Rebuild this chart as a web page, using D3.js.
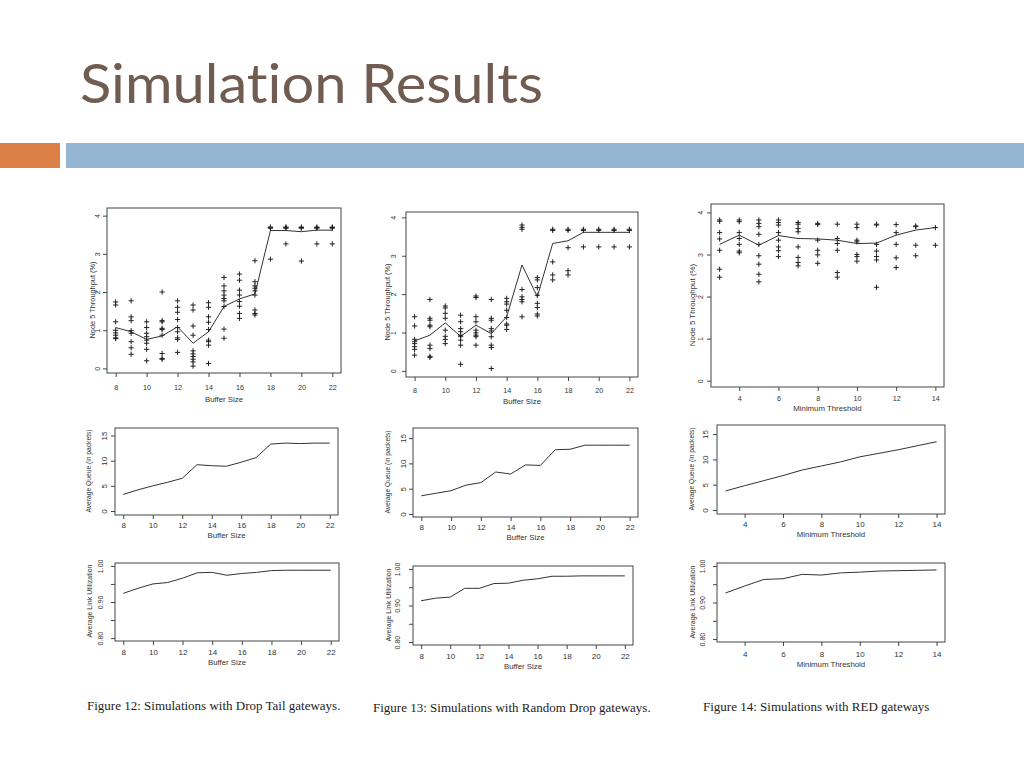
<!DOCTYPE html>
<html lang="en">
<head>
<meta charset="UTF-8">
<title>Simulation Results</title>
<script src="https://cdnjs.cloudflare.com/ajax/libs/d3/7.8.5/d3.min.js"></script>
<style>
  body { margin: 0; background: #fff; }
  svg { display: block; }
  .axis text { font-family: "Liberation Sans", Arial, sans-serif; fill: #333; }
  .axis line { stroke: #444; }
  .axis path { display: none; }
  .lab { font-family: "Liberation Sans", Arial, sans-serif; fill: #333; }
  .caption { font-family: "Liberation Serif", "Times New Roman", serif; font-size: 13px; fill: #222; }
</style>
</head>
<body>
<svg id="slide" width="1024" height="768"></svg>
<script>
// x values
const bufferSizes = [8, 9, 10, 11, 12, 13, 14, 15, 16, 17, 18, 19, 20, 21, 22];
const thresholds = [3, 4, 5, 6, 7, 8, 9, 10, 11, 12, 13, 14];

// Node 5 throughput (%), individual runs per x value
const dropTailRuns = [
  [1.74, 1.66, 1.22, 1.00, 0.93, 0.87, 0.80, 0.78],
  [1.77, 1.35, 1.25, 0.99, 0.92, 0.70, 0.54, 0.37],
  [1.22, 1.07, 0.92, 0.83, 0.74, 0.66, 0.50, 0.20],
  [2.00, 1.25, 1.22, 1.05, 1.02, 0.87, 0.39, 0.26, 0.24],
  [1.77, 1.60, 1.47, 1.28, 1.07, 0.96, 0.80, 0.76, 0.42],
  [1.66, 1.53, 1.11, 0.87, 0.46, 0.38, 0.31, 0.24, 0.17, 0.06],
  [1.72, 1.60, 1.35, 1.21, 1.02, 0.74, 0.70, 0.61, 0.13],
  [2.38, 2.16, 2.03, 1.92, 1.83, 1.77, 1.62, 1.03, 0.79],
  [2.47, 2.31, 2.05, 1.92, 1.75, 1.63, 1.44, 1.31],
  [2.82, 2.27, 2.16, 2.10, 2.03, 1.92, 1.53, 1.44, 1.40],
  [3.70, 3.69, 3.67, 2.86],
  [3.70, 3.69, 3.67, 3.26],
  [3.70, 3.69, 3.67, 2.81],
  [3.70, 3.69, 3.67, 3.26],
  [3.70, 3.69, 3.67, 3.26]
];
const dropTailMean = [1.07, 0.96, 0.76, 0.85, 1.09, 0.66, 0.96, 1.62, 1.82, 1.95, 3.61, 3.61, 3.58, 3.62, 3.62];

const randomDropRuns = [
  [1.41, 1.17, 0.82, 0.76, 0.71, 0.63, 0.56, 0.41],
  [1.86, 1.37, 1.32, 1.19, 1.15, 0.67, 0.58, 0.38, 0.35],
  [1.69, 1.64, 1.50, 1.37, 1.06, 0.90, 0.82, 0.71],
  [1.45, 1.28, 1.10, 1.02, 0.93, 0.89, 0.80, 0.67, 0.17],
  [1.95, 1.91, 1.41, 1.28, 1.06, 0.99, 0.93, 0.89, 0.67],
  [1.86, 1.37, 1.32, 1.10, 1.04, 0.89, 0.67, 0.61, 0.06],
  [1.89, 1.80, 1.74, 1.58, 1.39, 1.22, 1.19, 1.08],
  [3.80, 3.74, 3.69, 2.12, 1.93, 1.86, 1.80, 1.41],
  [2.43, 2.37, 2.17, 1.97, 1.76, 1.65, 1.48, 1.43],
  [3.69, 3.66, 2.84, 2.50, 2.37],
  [3.69, 3.66, 3.21, 2.61, 2.50],
  [3.69, 3.66, 3.23],
  [3.69, 3.66, 3.23],
  [3.69, 3.66, 3.23],
  [3.69, 3.66, 3.23]
];
const randomDropMean = [0.78, 0.93, 1.25, 0.90, 1.19, 0.97, 1.41, 2.76, 1.93, 3.32, 3.39, 3.61, 3.61, 3.61, 3.61];

const redRuns = [
  [3.82, 3.79, 3.52, 3.37, 3.10, 2.65, 2.46],
  [3.82, 3.78, 3.52, 3.38, 3.24, 3.08, 3.04],
  [3.82, 3.74, 3.66, 3.48, 3.24, 2.97, 2.77, 2.53, 2.35],
  [3.82, 3.76, 3.70, 3.52, 3.34, 3.18, 3.09, 2.95],
  [3.76, 3.72, 3.62, 3.54, 3.18, 2.93, 2.81, 2.73],
  [3.74, 3.71, 3.34, 3.10, 2.99, 2.79],
  [3.72, 3.38, 3.26, 3.10, 2.57, 2.46],
  [3.72, 3.64, 3.34, 3.30, 3.00, 2.95, 2.84],
  [3.72, 3.70, 3.24, 3.08, 2.95, 2.87, 2.22],
  [3.71, 3.52, 3.24, 2.92, 2.69],
  [3.68, 3.66, 3.22, 2.97],
  [3.64, 3.22]
];
const redMean = [3.24, 3.46, 3.22, 3.45, 3.38, 3.37, 3.34, 3.26, 3.27, 3.46, 3.58, 3.64];

// average queue (packets)
const dropTailQueue = [3.3, 4.2, 5.0, 5.7, 6.5, 9.2, 9.0, 8.9, 9.7, 10.6, 13.3, 13.5, 13.4, 13.5, 13.5];
const randomDropQueue = [3.6, 4.1, 4.6, 5.7, 6.2, 8.3, 7.9, 9.7, 9.6, 12.7, 12.8, 13.6, 13.6, 13.6, 13.6];
const redQueue = [3.75, 4.8, 5.8, 6.8, 7.9, 8.7, 9.5, 10.5, 11.2, 11.9, 12.7, 13.5];

// average link utilization
const dropTailUtil = [0.924, 0.938, 0.950, 0.954, 0.966, 0.981, 0.982, 0.974, 0.979, 0.982, 0.987, 0.988, 0.988, 0.988, 0.988];
const randomDropUtil = [0.913, 0.920, 0.923, 0.947, 0.947, 0.960, 0.961, 0.969, 0.973, 0.980, 0.980, 0.981, 0.981, 0.981, 0.981];
const redUtil = [0.926, 0.945, 0.963, 0.965, 0.977, 0.975, 0.981, 0.983, 0.986, 0.987, 0.988, 0.989];

// ticks
const bufferTicks = [8, 10, 12, 14, 16, 18, 20, 22];
const thresholdTicks = [4, 6, 8, 10, 12, 14];
const throughputTicks = [0, 1, 2, 3, 4];
const queueTicks = [0, 5, 10, 15];
const utilTicks = [0.80, 0.85, 0.90, 0.95, 1.00];
const utilLabelled = [0.80, 0.90, 1.00];

const captions = [
  "Figure 12: Simulations with Drop Tail gateways.",
  "Figure 13: Simulations with Random Drop gateways.",
  "Figure 14: Simulations with RED gateways"
];

const svg = d3.select("#slide");

// slide header
svg.append("text")
  .attr("x", 80).attr("y", 103)
  .attr("textLength", 463).attr("lengthAdjust", "spacingAndGlyphs")
  .style("font-family", "Lato, 'Open Sans', sans-serif")
  .style("font-variant-ligatures", "none")
  .style("font-feature-settings", "'liga' 0")
  .style("font-size", "55px")
  .style("fill", "#705C51")
  .text("Simulation Results");
svg.append("rect").attr("x", 0).attr("y", 143).attr("width", 60).attr("height", 25).attr("fill", "#DD8047");
svg.append("rect").attr("x", 66).attr("y", 143).attr("width", 958).attr("height", 25).attr("fill", "#94B6D2");

// per-kind settings
const kinds = {
  thr:   { yTicks: throughputTicks, yLabelled: throughputTicks, fmt: d3.format("d"), yLab: "Node 5 Throughput (%)",
           tickFont: 7.2, yTickFont: 7, labFont: 7.8 },
  queue: { yTicks: queueTicks, yLabelled: queueTicks, fmt: d3.format("d"), yLab: "Average Queue (in packets)",
           tickFont: 8, yTickFont: 8, labFont: 7.8 },
  util:  { yTicks: utilTicks, yLabelled: utilLabelled, fmt: d3.format(".2f"), yLab: "Average Link Utilization",
           tickFont: 8, yTickFont: 7, labFont: 7.8 }
};

const panels = [
  { kind: "thr", xs: bufferSizes, xTicks: bufferTicks, runs: dropTailRuns, line: dropTailMean, xLab: "Buffer Size",
    l: 107, r: 341, t: 208, b: 373, yDom: [-0.12, 4.2], xTickY: 387.5, xLabY: 399.5, yTickX: 97.5, yLabX: 92.5,
    yLabY: 300, yLabFont: 7.4 },
  { kind: "thr", xs: bufferSizes, xTicks: bufferTicks, runs: randomDropRuns, line: randomDropMean, xLab: "Buffer Size",
    l: 406, r: 638, t: 212, b: 377, yDom: [-0.16, 4.14], xTickY: 390.5, xLabY: 401.5, yTickX: 394, yLabX: 387.5,
    yLabY: 302, yLabFont: 7.4 },
  { kind: "thr", xs: thresholds, xTicks: thresholdTicks, runs: redRuns, line: redMean, xLab: "Minimum Threshold",
    l: 711, r: 944, t: 204, b: 387, yDom: [-0.15, 4.2], xTickY: 398.5, xLabY: 408.5, yTickX: 701, yLabX: 692,
    yLabY: 305, yLabFont: 7.9 },
  { kind: "queue", xs: bufferSizes, xTicks: bufferTicks, line: dropTailQueue, xLab: "Buffer Size",
    l: 115, r: 338, t: 428, b: 515, yDom: [-0.8, 16.5], xTickY: 525, xLabY: 535, yTickX: 104, yLabX: 89,
    yLabY: 471, yLabFont: 6.7 },
  { kind: "queue", xs: bufferSizes, xTicks: bufferTicks, line: randomDropQueue, xLab: "Buffer Size",
    l: 413, r: 638, t: 428, b: 517, yDom: [-0.6, 17], xTickY: 527, xLabY: 537, yTickX: 403, yLabX: 388,
    yLabY: 472, yLabFont: 6.7 },
  { kind: "queue", xs: thresholds, xTicks: thresholdTicks, line: redQueue, xLab: "Minimum Threshold",
    l: 717, r: 945, t: 425, b: 514, yDom: [-0.8, 16.8], xTickY: 524, xLabY: 534, yTickX: 705, yLabX: 692,
    yLabY: 469, yLabFont: 6.7 },
  { kind: "util", xs: bufferSizes, xTicks: bufferTicks, line: dropTailUtil, xLab: "Buffer Size",
    l: 115, r: 339, t: 563, b: 641, yDom: [0.792, 1.008], xTickY: 652, xLabY: 662, yTickX: 101, yLabX: 90,
    yLabY: 601, yLabFont: 7 },
  { kind: "util", xs: bufferSizes, xTicks: bufferTicks, line: randomDropUtil, xLab: "Buffer Size",
    l: 413, r: 633, t: 566, b: 645, yDom: [0.792, 1.008], xTickY: 656, xLabY: 666, yTickX: 398, yLabX: 389,
    yLabY: 605, yLabFont: 7 },
  { kind: "util", xs: thresholds, xTicks: thresholdTicks, line: redUtil, xLab: "Minimum Threshold",
    l: 717, r: 945, t: 563, b: 642, yDom: [0.792, 1.008], xTickY: 654, xLabY: 664, yTickX: 703, yLabX: 693,
    yLabY: 602, yLabFont: 7 }
];

function drawPanel(p) {
  const k = kinds[p.kind];
  const g = svg.append("g");
  const lo = d3.min(p.xs), hi = d3.max(p.xs), pad = (hi - lo) * 0.04;
  const x = d3.scaleLinear().domain([lo - pad, hi + pad]).range([p.l, p.r]);
  const y = d3.scaleLinear().domain(p.yDom).range([p.b, p.t]);

  g.append("rect")
    .attr("x", p.l).attr("y", p.t)
    .attr("width", p.r - p.l).attr("height", p.b - p.t)
    .attr("fill", "none").attr("stroke", "#444").attr("stroke-width", 1);

  const xa = g.append("g").attr("class", "axis")
    .attr("transform", `translate(0,${p.b})`)
    .call(d3.axisBottom(x).tickValues(p.xTicks).tickSize(4).tickFormat(d3.format("d")));
  xa.selectAll("text")
    .attr("y", p.xTickY - p.b).attr("dy", "0.35em")
    .style("font-size", k.tickFont + "px");

  const ya = g.append("g").attr("class", "axis")
    .attr("transform", `translate(${p.l},0)`)
    .call(d3.axisLeft(y).tickValues(k.yTicks).tickSize(4)
      .tickFormat(d => k.yLabelled.includes(d) ? k.fmt(d) : ""));
  ya.selectAll("text")
    .attr("x", 0).attr("dy", "0.35em")
    .attr("text-anchor", "middle")
    .attr("transform", `translate(${p.yTickX - p.l},0) rotate(-90)`)
    .style("font-size", k.yTickFont + "px");

  g.append("text").attr("class", "lab")
    .attr("x", (x(lo) + x(hi)) / 2).attr("y", p.xLabY).attr("dy", "0.35em")
    .attr("text-anchor", "middle")
    .style("font-size", k.labFont + "px")
    .text(p.xLab);

  g.append("text").attr("class", "lab")
    .attr("transform", `translate(${p.yLabX},${p.yLabY}) rotate(-90)`)
    .attr("dy", "0.35em").attr("text-anchor", "middle")
    .style("font-size", p.yLabFont + "px")
    .text(k.yLab);

  const line = d3.line().x((d, i) => x(p.xs[i])).y(d => y(d));
  g.append("path").datum(p.line)
    .attr("fill", "none").attr("stroke", "#333").attr("stroke-width", 1)
    .attr("d", line);

  if (p.runs) {
    const pts = [];
    p.runs.forEach((vals, i) => vals.forEach(v => pts.push([p.xs[i], v])));
    const s = 2.6;
    g.selectAll(".pt").data(pts).join("path")
      .attr("class", "pt")
      .attr("transform", d => `translate(${x(d[0])},${y(d[1])})`)
      .attr("d", `M${-s},0H${s}M0,${-s}V${s}`)
      .attr("stroke", "#222").attr("stroke-width", 1).attr("fill", "none");
  }
}

panels.forEach(drawPanel);

// figure captions
const captionX = [87, 373, 703];
const captionY = [705, 707, 706];
svg.selectAll(".caption").data(captions).join("text")
  .attr("class", "caption")
  .attr("x", (d, i) => captionX[i]).attr("y", (d, i) => captionY[i]).attr("dy", "0.35em")
  .text(d => d);
</script>
</body>
</html>
